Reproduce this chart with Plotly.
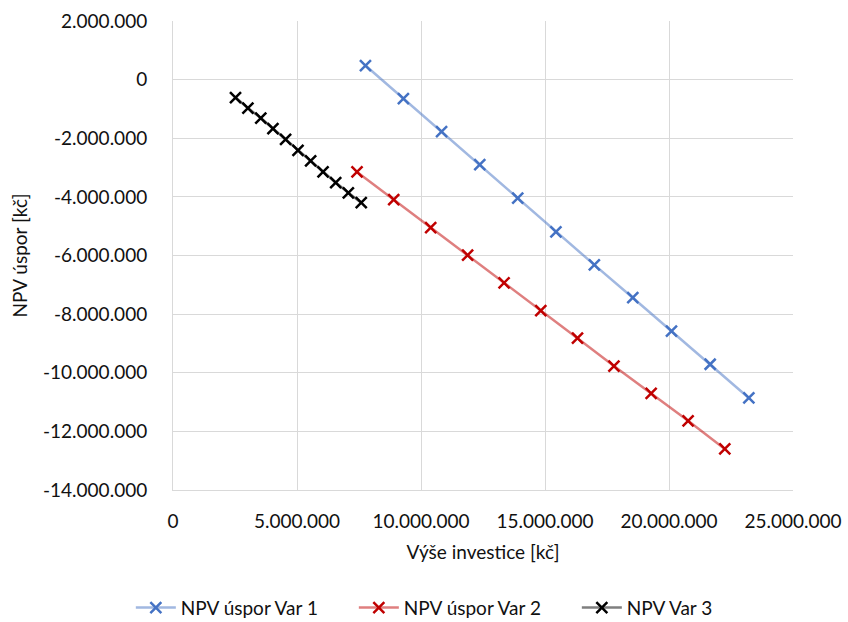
import plotly.graph_objects as go

# Investment amount [Kč] and NPV of savings [Kč] for each variant
invest_var1 = [7.76e6, 9.29e6, 10.83e6, 12.37e6, 13.90e6, 15.44e6, 16.99e6, 18.54e6, 20.10e6, 21.66e6, 23.22e6]
npv_var1 = [0.48e6, -0.65e6, -1.77e6, -2.90e6, -4.04e6, -5.19e6, -6.32e6, -7.44e6, -8.58e6, -9.71e6, -10.86e6]

invest_var2 = [7.42e6, 8.90e6, 10.39e6, 11.88e6, 13.35e6, 14.83e6, 16.31e6, 17.78e6, 19.28e6, 20.77e6, 22.25e6]
npv_var2 = [-3.15e6, -4.09e6, -5.05e6, -5.99e6, -6.93e6, -7.88e6, -8.82e6, -9.77e6, -10.70e6, -11.64e6, -12.60e6]

invest_var3 = [2.52e6, 3.02e6, 3.54e6, 4.03e6, 4.54e6, 5.04e6, 5.55e6, 6.05e6, 6.56e6, 7.07e6, 7.59e6]
npv_var3 = [-0.61e6, -0.97e6, -1.31e6, -1.67e6, -2.04e6, -2.41e6, -2.77e6, -3.15e6, -3.51e6, -3.86e6, -4.20e6]

series_names = ["NPV úspor Var 1", "NPV úspor Var 2", "NPV Var 3"]

x_ticks = [0, 5_000_000, 10_000_000, 15_000_000, 20_000_000, 25_000_000]
y_ticks = [2_000_000, 0, -2_000_000, -4_000_000, -6_000_000, -8_000_000,
           -10_000_000, -12_000_000, -14_000_000]


def fmt(v):
    s = f"{abs(v):,d}".replace(",", ".")
    return ("-" + s) if v < 0 else s


FONT = "Lato, 'Open Sans', sans-serif"
TXT = "#111111"
FS = 19

styles = [
    dict(marker="#4472C4", line="rgba(68,114,196,0.5)"),
    dict(marker="#C00000", line="rgba(192,0,0,0.5)"),
    dict(marker="#000000", line="rgba(0,0,0,0.5)"),
]

fig = go.Figure()
for (xs, ys), name, st in zip(
    [(invest_var1, npv_var1), (invest_var2, npv_var2), (invest_var3, npv_var3)],
    series_names, styles,
):
    fig.add_trace(go.Scatter(
        x=xs, y=ys, name=name, mode="lines+markers",
        line=dict(color=st["line"], width=2.5),
        marker=dict(symbol="x-thin", size=11,
                    line=dict(color=st["marker"], width=2.5)),
    ))

fig.update_layout(
    width=848, height=622,
    margin=dict(l=173, r=55, t=21, b=132, autoexpand=False),
    paper_bgcolor="white", plot_bgcolor="white",
    font=dict(family=FONT, size=FS, color=TXT),
    showlegend=True,
    legend=dict(orientation="h", x=-0.068, xanchor="left",
                y=-0.251, yanchor="middle",
                font=dict(size=FS, color=TXT), itemwidth=40,
                entrywidth=168, tracegroupgap=0),
)

fig.update_xaxes(
    range=[0, 25_000_000], tickvals=x_ticks, ticktext=[fmt(v) for v in x_ticks],
    showgrid=True, gridcolor="#d9d9d9", gridwidth=1,
    showline=True, linecolor="#d9d9d9", linewidth=1,
    zeroline=False, ticks="", ticklabelstandoff=14, automargin=False,
    title=dict(text="Výše investice [kč]", font=dict(size=FS, color=TXT), standoff=14),
)
fig.update_yaxes(
    range=[-14_000_000, 2_000_000], tickvals=y_ticks, ticktext=[fmt(v) for v in y_ticks],
    showgrid=True, gridcolor="#d9d9d9", gridwidth=1,
    showline=True, linecolor="#d9d9d9", linewidth=1,
    zeroline=False, ticks="", ticklabelstandoff=21, automargin=False,
    title=dict(text="NPV úspor [kč]", font=dict(size=FS, color=TXT), standoff=10),
)

fig.write_html("out.html")
